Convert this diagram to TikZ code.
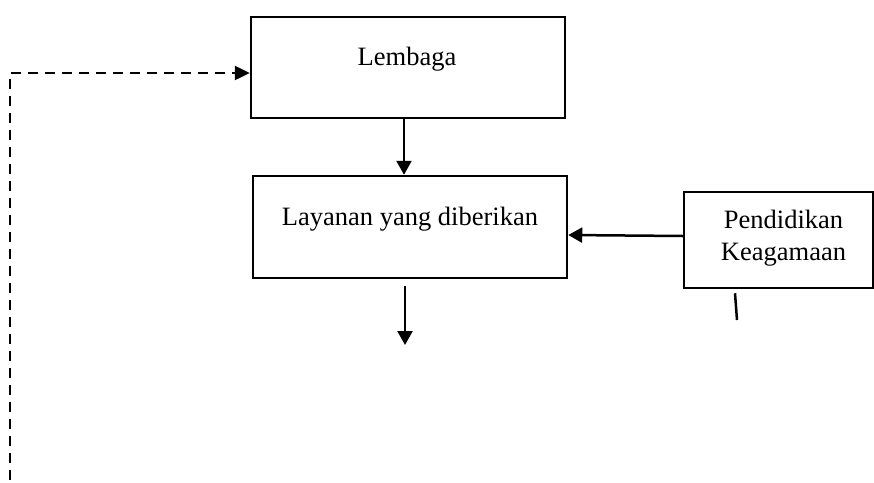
\documentclass[tikz,border=0pt]{standalone}
\usepackage{fontspec}
\setmainfont{Liberation Serif}
\usetikzlibrary{arrows.meta}
\begin{document}
\begin{tikzpicture}[x=1pt,y=-1pt,
  box/.style={draw=black,line width=2.5pt,minimum width=#1,inner sep=0pt},
  boxtext/.style={font=\fontsize{26.5}{31.8}\selectfont,inner sep=0pt,align=center},
  flow/.style={line width=2.5pt,-{Triangle[length=14pt,width=15pt]}},
  feedback/.style={line width=2.5pt,dash pattern=on 10pt off 7pt,-{Triangle[length=15pt,width=14pt]}}]
\useasboundingbox (0,0) rectangle (874,482);

% boxes
\node[box=314pt,minimum height=101pt] (lembaga) at (408,67.5) {};
\node[boxtext] (lembagaText) at (407,58.8) {Lembaga};

\node[box=314pt,minimum height=102pt] (layanan) at (410,227) {};
\node[boxtext] (layananText) at (410,218.8) {Layanan yang diberikan};

\node[box=189pt,minimum height=96pt] (pendidikan) at (778.5,240) {};
\node[boxtext] (pendidikanText) at (783.5,238) {Pendidikan\\Keagamaan};

% free ends
\coordinate (outEnd) at (405,345);
\coordinate (stubEnd) at (737,320);
\coordinate (loopStart) at (10,480);

% connectors
\draw[flow] ([xshift=-4pt]lembaga.south) -- ([xshift=-6pt]layanan.north);
\draw[flow] ([yshift=4pt]pendidikan.west) -- ([yshift=-8pt]layanan.east);
\draw[flow] ([xshift=-5pt,yshift=-7pt]layanan.south) -- (outEnd);
\draw[line width=2.5pt] ([xshift=-43.5pt,yshift=-4pt]pendidikan.south) -- (stubEnd);
\draw[feedback] (loopStart) |- ([yshift=-5.5pt]lembaga.west);
\end{tikzpicture}
\end{document}
